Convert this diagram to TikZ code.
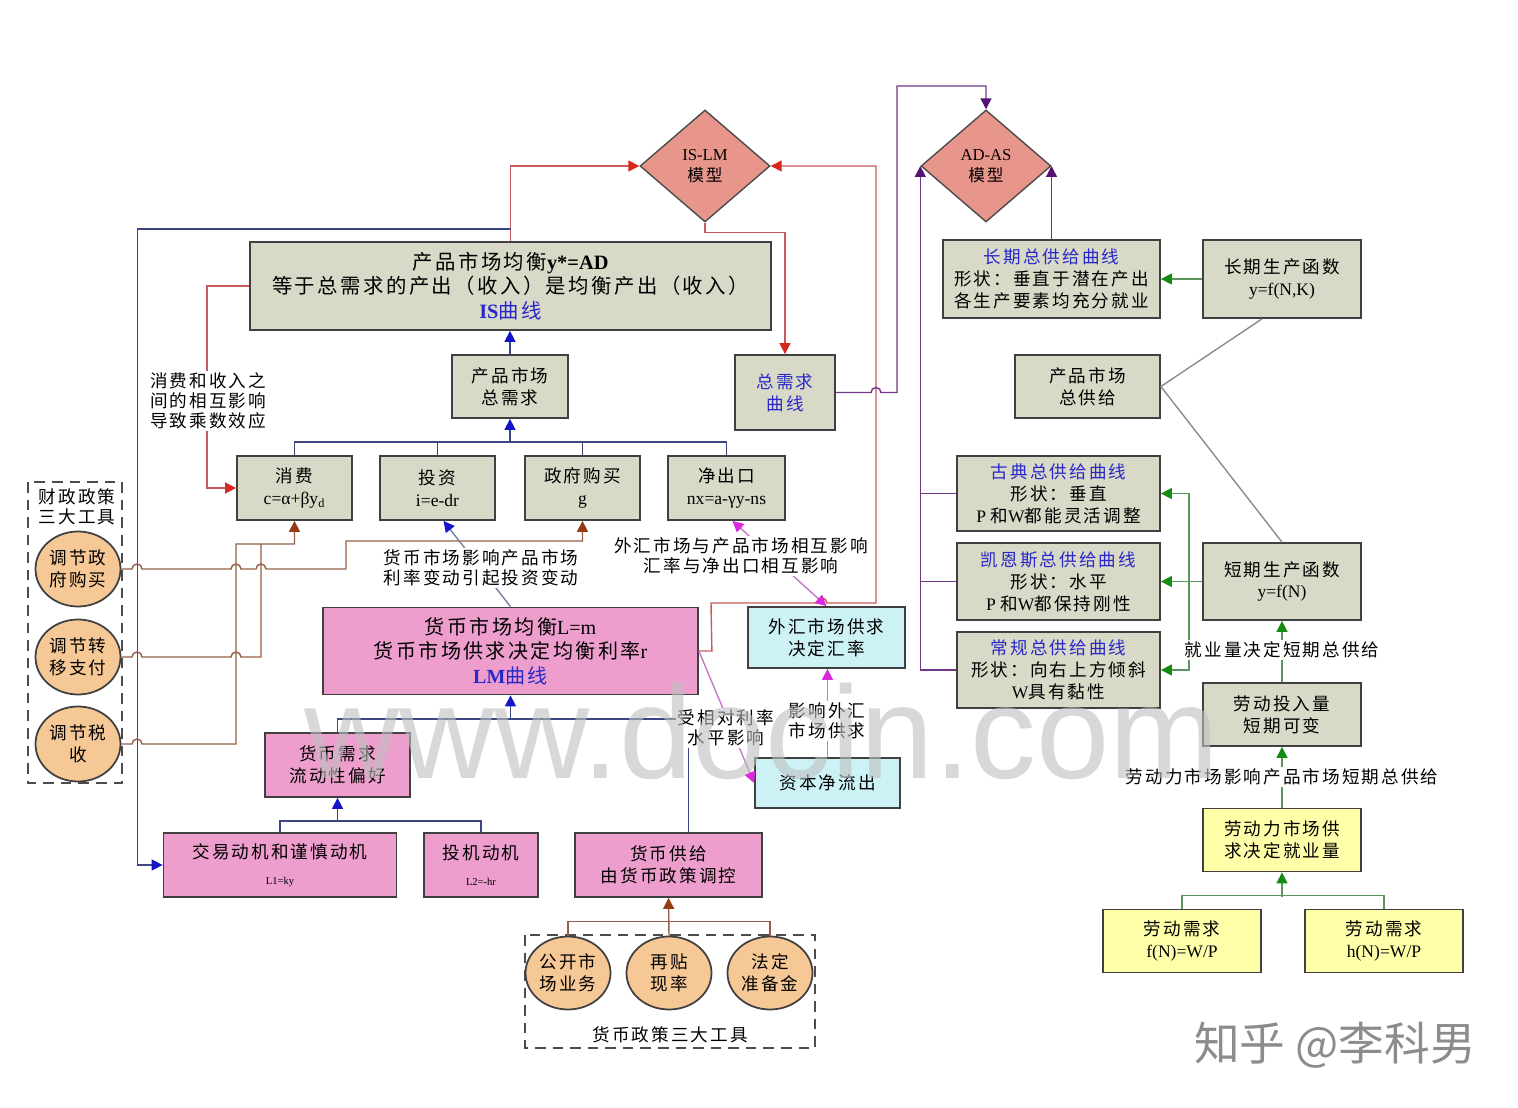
\documentclass[tikz,border=0pt]{standalone}
\usepackage{fontspec}
\setmainfont{Noto Sans CJK SC}[LetterSpace=12]
\newfontfamily\lat{Liberation Serif}
\newfontfamily\wmfont{Liberation Sans}
\newfontfamily\wmcjk{Noto Sans CJK SC}
\usetikzlibrary{arrows.meta,shapes.geometric,calc}
\definecolor{gfill}{RGB}{217,217,200}
\definecolor{pfill}{RGB}{238,158,205}
\definecolor{cfill}{RGB}{205,242,246}
\definecolor{yfill}{RGB}{255,255,170}
\definecolor{ofill}{RGB}{246,200,150}
\definecolor{dfill}{RGB}{232,150,140}
\definecolor{tblue}{RGB}{40,40,200}
\definecolor{redl}{RGB}{200,90,90}
\definecolor{redt}{RGB}{215,40,30}
\definecolor{navl}{RGB}{60,70,130}
\definecolor{bluet}{RGB}{20,20,200}
\definecolor{brl}{RGB}{150,95,70}
\definecolor{brt}{RGB}{150,60,20}
\definecolor{purl}{RGB}{115,55,135}
\definecolor{purt}{RGB}{85,20,115}
\definecolor{magl}{RGB}{200,120,200}
\definecolor{magt}{RGB}{220,40,220}
\definecolor{grl}{RGB}{90,150,90}
\definecolor{grt}{RGB}{20,140,20}
\definecolor{grayl}{RGB}{140,140,140}
\definecolor{gbl}{RGB}{120,130,165}

\begin{document}
\begin{tikzpicture}[x=0.02cm, y=-0.02cm,
  sz/.style 2 args={minimum width=#1*0.02cm, minimum height=#2*0.02cm},
  box/.style={draw=black!75, line width=1pt, align=center, inner sep=0pt,
              fill=#1, font=\fontsize{10}{12.5}\selectfont},
  box/.default=gfill,
  circ/.style={ellipse, draw=black!75, line width=1pt, fill=ofill, inner sep=0pt,
               align=center, font=\fontsize{10}{12.5}\selectfont},
  dia/.style={diamond, draw=black!70, line width=0.8pt, fill=dfill, sz={130}{112},
              inner sep=0pt, align=center, font=\fontsize{9.5}{12}\selectfont},
  note/.style={fill=white, inner sep=1pt, align=center, font=\fontsize{10}{11.5}\selectfont},
  dsh/.style={draw=black!70, line width=1pt, dash pattern=on 6pt off 4pt},
  ln/.style={line width=0.8pt, draw=#1},
  tip/.style={-{Triangle[length=2.2mm,width=2.2mm,color=#1]}}]

\useasboundingbox (0,0) rectangle (1518,1108);
\fill[white] (0,0) rectangle (1518,1108);

% dashed tool groups
\draw[dsh] (28,482) rectangle (122,783);
\draw[dsh] (525,935) rectangle (815,1048);

% models
\node[dia] (ISLM) at (705,166) {{\lat IS-LM}\\模型};
\node[dia] (ADAS) at (986,166) {{\lat AD-AS}\\模型};

% product market
\node[box, sz={521}{88}, font=\fontsize{11.6}{14}\selectfont] (ISbox) at (510.5,286)
  {产品市场均衡{\lat\bfseries y*=AD}\\等于总需求的产出（收入）是均衡产出（收入）\\
   {\color{tblue}{\lat\bfseries IS}曲线}};
\node[box, sz={116}{63}] (AggD) at (510,386.5) {产品市场\\总需求};
\node[box, sz={100}{75}, text=tblue] (ADcurve) at (785,392.5) {总需求\\曲线};
\node[box, sz={115}{64}] (cons) at (294.5,488) {消费\\{\lat c=α+βy\textsubscript{d}}};
\node[box, sz={115}{64}] (inv) at (437.5,488) {投资\\{\lat i=e-dr}};
\node[box, sz={115}{64}] (gov) at (582.5,488) {政府购买\\{\lat g}};
\node[box, sz={117}{64}] (nx) at (726.5,488) {净出口\\{\lat nx=a-γy-ns}};

% money market
\node[box=pfill, sz={375}{87}, font=\fontsize{11.4}{14}\selectfont] (LM) at (510.5,651)
  {货币市场均衡{\lat L=m}\\货币市场供求决定均衡利率{\lat r}\\{\color{tblue}{\lat\bfseries LM}曲线}};
\node[box=pfill, sz={145}{64}] (mdemand) at (337.5,765) {货币需求\\流动性偏好};
\node[box=pfill, sz={233}{64}] (trans) at (280,865)
  {交易动机和谨慎动机\\[2pt]{\lat\fontsize{6}{7}\selectfont L1=ky}};
\node[box=pfill, sz={114}{64}] (spec) at (481,865)
  {投机动机\\[2pt]{\lat\fontsize{6}{7}\selectfont L2=-hr}};
\node[box=pfill, sz={187}{64}] (msupply) at (668.5,865) {货币供给\\由货币政策调控};

% foreign exchange
\node[box=cfill, sz={157}{61}] (fx) at (826.5,637.5) {外汇市场供求\\决定汇率};
\node[box=cfill, sz={145}{50}] (capital) at (827.5,783) {资本净流出};

% supply side
\node[box, sz={217}{78}] (LRAS) at (1051.5,279)
  {{\color{tblue}长期总供给曲线}\\形状：垂直于潜在产出\\各生产要素均充分就业};
\node[box, sz={158}{78}] (LRPF) at (1282,279) {长期生产函数\\{\lat y=f(N,K)}};
\node[box, sz={145}{63}] (AggS) at (1087.5,386.5) {产品市场\\总供给};
\node[box, sz={203}{75}] (classical) at (1058.5,493.5)
  {{\color{tblue}古典总供给曲线}\\形状：垂直\\{\lat P }和{\lat W}都能灵活调整};
\node[box, sz={203}{77}] (keynes) at (1058.5,581.5)
  {{\color{tblue}凯恩斯总供给曲线}\\形状：水平\\{\lat P }和{\lat W}都保持刚性};
\node[box, sz={203}{76}] (normal) at (1058.5,670)
  {{\color{tblue}常规总供给曲线}\\形状：向右上方倾斜\\{\lat W}具有黏性};
\node[box, sz={158}{77}] (SRPF) at (1282,581.5) {短期生产函数\\{\lat y=f(N)}};
\node[box, sz={158}{63}] (laborin) at (1282,714.5) {劳动投入量\\短期可变};
\node[box=yfill, sz={158}{63}] (labmkt) at (1282,840) {劳动力市场供\\求决定就业量};
\node[box=yfill, sz={158}{63}] (ld1) at (1182,941) {劳动需求\\{\lat f(N)=W/P}};
\node[box=yfill, sz={158}{63}] (ld2) at (1384,941) {劳动需求\\{\lat h(N)=W/P}};

% policy tools
\node[circ, sz={85}{75}] (fc1) at (78,569) {调节政\\府购买};
\node[circ, sz={85}{75}] (fc2) at (78,657) {调节转\\移支付};
\node[circ, sz={85}{75}] (fc3) at (78,744) {调节税\\收};
\node[circ, sz={85}{73}] (mt1) at (568,973) {公开市\\场业务};
\node[circ, sz={85}{73}] (mt2) at (669,973) {再贴\\现率};
\node[circ, sz={85}{73}] (mt3) at (770,973) {法定\\准备金};
\node[note, fill=none] (fisctitle) at (77,507) {财政政策\\三大工具};
\node[note, fill=none] (montitle) at (670,1035) {货币政策三大工具};

% IS-LM links
\draw[ln=redl, tip=redt] (ISbox.north) |- (ISLM.west);
\draw[ln=redl, tip=redt] (ISLM.south) -- ++(0,10) -| (ADcurve.north);
\draw[ln=redl, tip=redt] (LM.east) -- ++(13,0) -- (711,603) -- (817,603)
  arc[start angle=180, end angle=0, radius=0.1cm] -- (876,603) |- (ISLM.east);
\draw[ln=navl, tip=bluet] (ISbox.north) ++(0,-12) -- ++(-373,0) |- (trans.west);
\draw[ln=redl, tip=redt] (ISbox.west) -- ++(-42,0) |- (cons.west);

% aggregate demand
\draw[ln=navl, tip=bluet] (AggD.north) -- (AggD.north |- ISbox.south);
\draw[ln=navl] (cons.north) -- ++(0,-13) -| (nx.north);
\draw[ln=navl] (inv.north) -- ++(0,-13);
\draw[ln=navl] (gov.north) -- ++(0,-13);
\draw[ln=navl, tip=bluet] (AggD.south |- 0,443) -- (AggD.south);
\draw[ln=purl, tip=purt] (ADcurve.east) -- (871,392.5)
  arc[start angle=180, end angle=0, radius=0.1cm] -- (897,392.5) -- (897,86) -| (ADAS.north);

% fiscal tools
\draw[ln=brl, tip=brt] (fc1.east) -- (132,569) arc[start angle=180, end angle=0, radius=0.1cm]
  -- (231,569) arc[start angle=180, end angle=0, radius=0.1cm]
  -- (256,569) arc[start angle=180, end angle=0, radius=0.1cm]
  -- (346,569) -- (346,541) -| (gov.south);
\draw[ln=brl] (fc2.east) -- (132,657) arc[start angle=180, end angle=0, radius=0.1cm]
  -- (231,657) arc[start angle=180, end angle=0, radius=0.1cm] -- (261,657) -- (261,544);
\draw[ln=brl, tip=brt] (fc3.east) -- (132,744) arc[start angle=180, end angle=0, radius=0.1cm]
  -- (236,744) -- (236,544) -| (cons.south);

% money market links
\draw[ln=gbl, tip=bluet] (LM.north) -- ($(inv.south)+(6,0)$);
\draw[ln=magl, {Triangle[length=2.2mm,width=2.2mm,color=magt]}-{Triangle[length=2.2mm,width=2.2mm,color=magt]}]
  (fx.north) -- ($(nx.south)+(6,0)$);
\draw[ln=magl, tip=magt] (LM.east) -- (capital.west);
\draw[ln=magl, tip=magt] (capital.north) -- (capital.north |- fx.south);
\draw[ln=navl] (mdemand.north) -- ++(0,-13) -| ($(msupply.north)+(20,0)$);
\draw[ln=navl, tip=bluet] (LM.south |- 0,720) -- (LM.south);
\draw[ln=navl] (trans.north) -- ++(0,-11) -| (spec.north);
\draw[ln=navl, tip=bluet] (mdemand.south |- 0,822) -- (mdemand.south);
\draw[ln=brl] (mt1.north) -- ++(0,-14) -| (mt3.north);
\draw[ln=brl, tip=brt] (mt2.north) -- (msupply.south);

% supply side links
\draw[ln=purl, tip=purt] (normal.west) -| (ADAS.west);
\draw[ln=purl] (classical.west) -- ++(-35,0);
\draw[ln=purl] (keynes.west) -- ++(-35,0);
\draw[ln=purl, tip=purt] (LRAS.north) -- (LRAS.north |- ADAS.east);
\draw[ln=grl, tip=grt] (LRPF.west) -- (LRAS.east);
\draw[ln=grl, tip=grt] (SRPF.west) -- (keynes.east);
\draw[ln=grl, tip=grt] (SRPF.west) ++(-13,0) |- (classical.east);
\draw[ln=grl, tip=grt] (SRPF.west) ++(-13,0) |- (normal.east);
\draw[ln=grayl] ($(LRPF.south)+(-20,0)$) -- (AggS.east) -- (SRPF.north);
\draw[ln=grl, tip=grt] (laborin.north) -- (SRPF.south);
\draw[ln=grl, tip=grt] (labmkt.north) -- (laborin.south);
\draw[ln=grl] (ld1.north) -- ++(0,-13) -| (ld2.north);
\draw[ln=grl, tip=grt] (labmkt.south |- 0,897) -- (labmkt.south);

% notes on the links
\node[note] (multnote) at (208,401) {消费和收入之\\间的相互影响\\导致乘数效应};
\node[note] (invnote) at (481,568) {货币市场影响产品市场\\利率变动引起投资变动};
\node[note] (fxnote) at (741,556) {外汇市场与产品市场相互影响\\汇率与净出口相互影响};
\node[note] (ratenote) at (726,728) {受相对利率\\水平影响};
\node[note] (fxsupnote) at (827,721) {影响外汇\\市场供求};
\node[note] (empnote) at (1282,650) {就业量决定短期总供给};
\node[note] (labnote) at (1282,777) {劳动力市场影响产品市场短期总供给};

% marks
\node[font=\wmfont\fontsize{75}{75}\selectfont, text=black!25, text opacity=0.6, anchor=base]
  (wm) at (762,778) {www.docin.com};
\node[font=\wmcjk\fontsize{26}{26}\selectfont, text=black!45] (zh) at (1335,1045) {知乎 @李科男};
\end{tikzpicture}
\end{document}
